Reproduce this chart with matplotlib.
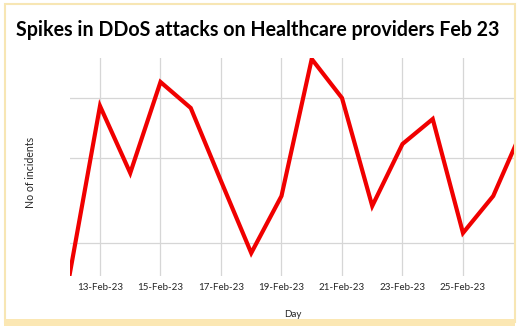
import pandas as pd
import matplotlib.pyplot as plt
import matplotlib.dates as mdates
from matplotlib.patches import Rectangle

# daily DDoS incidents (relative units)
days = ['2023-02-12', '2023-02-13', '2023-02-14', '2023-02-15', '2023-02-16',
        '2023-02-17', '2023-02-18', '2023-02-19', '2023-02-20', '2023-02-21',
        '2023-02-22', '2023-02-23', '2023-02-24', '2023-02-25', '2023-02-26',
        '2023-02-27']
incidents = [2, 170, 103, 194, 168, 95, 23, 80, 217, 178, 70, 132, 157, 43, 80, 149]
grid_levels = [33, 118, 178]
tick_days = ['2023-02-13', '2023-02-15', '2023-02-17', '2023-02-19',
             '2023-02-21', '2023-02-23', '2023-02-25']

dates = pd.to_datetime(days)
ticks = pd.to_datetime(tick_days)

plt.rcParams['font.family'] = ['Lato', 'DejaVu Sans']

fig = plt.figure(figsize=(5.22, 3.33), dpi=100)
fig.patch.set_facecolor('white')

# pale yellow frame
fig.patches.append(Rectangle((4.5 / 522, 1 - 322 / 333), 510 / 522, 318 / 333,
                             transform=fig.transFigure, fill=False,
                             edgecolor='#f7e6b4', linewidth=1.5, zorder=0))
fig.patches.append(Rectangle((4 / 522, 1 - 326 / 333), 511 / 522, 7 / 333,
                             transform=fig.transFigure, facecolor='#fbe7b3',
                             edgecolor='none', zorder=0))

ax = fig.add_axes([69.75 / 522, 1 - 276 / 333, 445.25 / 522, 218 / 333])
ax.plot(dates, incidents, color='#f00000', linewidth=3, solid_joinstyle='miter',
        zorder=3)

x0 = dates[0]
ax.set_xlim(mdates.date2num(x0), mdates.date2num(x0) + 14.72)
ax.set_ylim(0, 218)

ax.set_xticks(ticks)
ax.xaxis.set_major_formatter(mdates.DateFormatter('%d-%b-%y'))
ax.set_yticks(grid_levels)
ax.set_yticklabels([])
ax.tick_params(axis='both', length=0)
ax.tick_params(axis='x', labelsize=7, colors='#262626', pad=5)
ax.grid(True, color='#d6d6d6', linewidth=0.9)
ax.set_axisbelow(True)
for s in ax.spines.values():
    s.set_visible(False)

ax.set_xlabel('Day', fontsize=7, color='#262626', labelpad=13)
ax.set_ylabel('No of incidents', fontsize=7.6, color='#262626')
ax.yaxis.set_label_coords(-0.076, 0.475)

fig.text(258 / 522, 1 - 30 / 333,
         'Spikes in DDoS attacks on Healthcare providers Feb 23',
         ha='center', va='center', fontsize=14.1, fontweight='bold',
         color='black')

fig.savefig('out.png', dpi=100)
